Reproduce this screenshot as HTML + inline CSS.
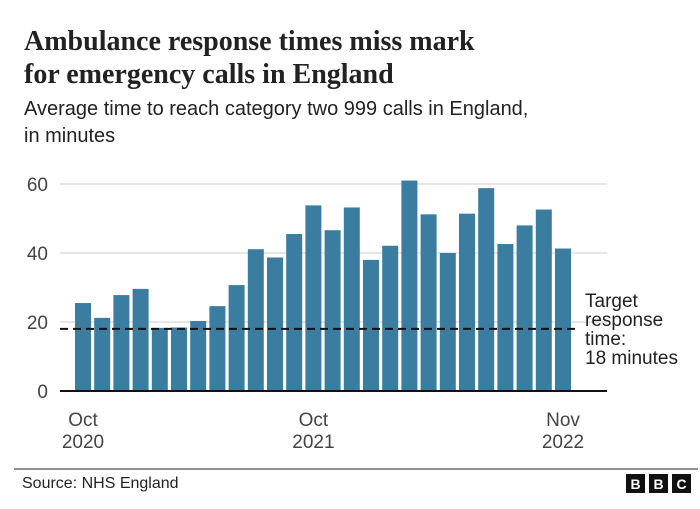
<!DOCTYPE html>
<html><head><meta charset="utf-8"><style>
body{margin:0;background:#fff;width:700px;height:504px;overflow:hidden;font-family:"Liberation Sans",sans-serif;}
svg text{font-family:"Liberation Sans",sans-serif;}
svg text.serif{font-family:"Liberation Serif",serif;}
</style></head><body>
<svg width="700" height="504">
<text class="serif" x="24" y="50" font-size="28" font-weight="bold" fill="#222">Ambulance response times miss mark</text>
<text class="serif" x="24" y="83" font-size="28" font-weight="bold" fill="#222">for emergency calls in England</text>
<text x="24" y="115" font-size="20" fill="#222">Average time to reach category two 999 calls in England,</text>
<text x="24" y="142" font-size="20" fill="#222">in minutes</text>
<g id="grid"></g><g id="bars"></g><g id="overlay"></g>
<line x1="14" y1="469" x2="698" y2="469" stroke="#222" stroke-width="1"/>
<text x="22" y="488" font-size="16" fill="#222">Source: NHS England</text>
<g>
<rect x="626" y="474" width="19" height="19" fill="#111"/><text x="635.5" y="489" font-size="14" font-weight="bold" fill="#fff" text-anchor="middle">B</text>
<rect x="649" y="474" width="19" height="19" fill="#111"/><text x="658.5" y="489" font-size="14" font-weight="bold" fill="#fff" text-anchor="middle">B</text>
<rect x="672" y="474" width="19" height="19" fill="#111"/><text x="681.5" y="489" font-size="14" font-weight="bold" fill="#fff" text-anchor="middle">C</text>
</g>
</svg>
<script>
const values=[25.5,21.2,27.8,29.6,18.3,18.4,20.3,24.6,30.7,41.1,38.7,45.5,53.8,46.6,53.2,38,42.1,61,51.2,40,51.4,58.8,42.6,48,52.6,41.3];
const yTicks=[0,20,40,60];
const xLabels=[{i:0,a:"Oct",b:"2020"},{i:12,a:"Oct",b:"2021"},{i:25,a:"Nov",b:"2022"}];
const target=18;
const NS="http://www.w3.org/2000/svg";
const x0=60,x1=607,y0=391,yTop=184,yMax=60;
const firstX=75,step=19.2,bw=16;
const y=v=>y0-(v/yMax)*(y0-yTop);
const xc=i=>firstX+i*step+bw/2;
function mk(t,a,p){const e=document.createElementNS(NS,t);for(const k in a)e.setAttribute(k,a[k]);p.appendChild(e);return e;}
const grid=document.getElementById('grid'),bars=document.getElementById('bars'),ov=document.getElementById('overlay');
yTicks.forEach(t=>{
 if(t>0){const l=mk('line',{x1:x0,x2:x1,y1:y(t),y2:y(t),stroke:'#ccc','stroke-width':1},grid);
 
 }
 const tx=mk('text',{x:48,y:y(t)+7,'font-size':19,fill:'#444','text-anchor':'end'},grid);tx.textContent=t;
 
 
});
values.forEach((v,i)=>{
 const r=mk('rect',{x:xc(i)-bw/2,y:y(v),width:bw,height:y0-y(v),fill:'#3a7da1'},bars);
 
 
});
const ax=mk('line',{x1:x0,x2:x1,y1:y0,y2:y0,stroke:'#111','stroke-width':2},ov);


const tl=mk('line',{x1:x0,x2:580,y1:y(target),y2:y(target),stroke:'#111','stroke-width':2,'stroke-dasharray':'8,5'},ov);


const lab=["Target","response","time:","18 minutes"];
lab.forEach((s,k)=>{const t=mk('text',{x:585,y:307+k*19,'font-size':19,fill:'#222'},ov);t.textContent=s;
 
 });
xLabels.forEach(o=>{
 const c=xc(o.i);
 const a=mk('text',{x:c,y:426,'font-size':19,fill:'#444','text-anchor':'middle'},ov);a.textContent=o.a;
 
 
 const b=mk('text',{x:c,y:448,'font-size':19,fill:'#444','text-anchor':'middle'},ov);b.textContent=o.b;
 
 
});
</script>
</body></html>
